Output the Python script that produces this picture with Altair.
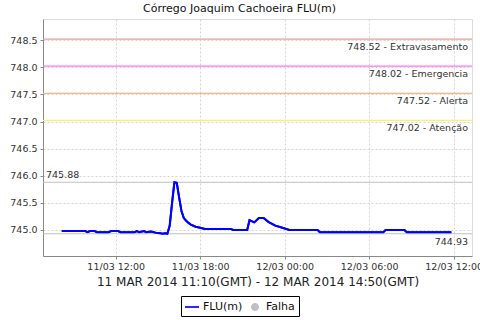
import altair as alt
import pandas as pd

# ---- data ----
times = [
    "2014-03-11T08:10", "2014-03-11T09:50", "2014-03-11T10:00", "2014-03-11T10:10",
    "2014-03-11T10:30", "2014-03-11T10:40", "2014-03-11T11:30", "2014-03-11T11:40",
    "2014-03-11T12:10", "2014-03-11T12:20", "2014-03-11T13:20", "2014-03-11T13:30",
    "2014-03-11T13:40", "2014-03-11T14:00", "2014-03-11T14:10", "2014-03-11T14:30",
    "2014-03-11T14:50", "2014-03-11T15:10", "2014-03-11T15:20", "2014-03-11T15:30",
    "2014-03-11T15:40", "2014-03-11T15:50", "2014-03-11T16:00", "2014-03-11T16:10",
    "2014-03-11T16:20", "2014-03-11T16:30", "2014-03-11T16:40", "2014-03-11T16:50",
    "2014-03-11T17:00", "2014-03-11T17:10", "2014-03-11T17:20", "2014-03-11T17:40",
    "2014-03-11T18:00", "2014-03-11T18:20", "2014-03-11T20:10", "2014-03-11T20:20",
    "2014-03-11T21:20", "2014-03-11T21:30", "2014-03-11T21:50", "2014-03-11T22:10",
    "2014-03-11T22:30", "2014-03-11T22:50", "2014-03-11T23:20", "2014-03-11T23:50",
    "2014-03-12T00:20", "2014-03-12T02:20", "2014-03-12T02:30", "2014-03-12T07:00",
    "2014-03-12T07:10", "2014-03-12T08:30", "2014-03-12T08:40", "2014-03-12T11:50",
]
levels = [
    744.98, 744.98, 744.96, 744.98,
    744.98, 744.96, 744.96, 744.98,
    744.98, 744.96, 744.96, 744.98,
    744.96, 744.98, 744.96, 744.97,
    744.95, 744.94, 744.93, 744.94,
    744.93, 745.08, 745.50, 745.88,
    745.87, 745.60, 745.35, 745.22,
    745.17, 745.13, 745.10, 745.06,
    745.04, 745.02, 745.02, 745.00,
    745.00, 745.18, 745.14, 745.22,
    745.22, 745.15, 745.08, 745.04,
    745.00, 745.00, 744.96, 744.96,
    745.00, 745.00, 744.96, 744.96,
]
threshold_values = [748.52, 748.02, 747.52, 747.02]
threshold_names = ["Extravasamento", "Emergencia", "Alerta", "Atenção"]
max_value = 745.88
min_value = 744.93
tick_times = ["2014-03-11T12:00", "2014-03-11T18:00", "2014-03-12T00:00",
              "2014-03-12T06:00", "2014-03-12T12:00"]
y_ticks = [745.0, 745.5, 746.0, 746.5, 747.0, 747.5, 748.0, 748.5]
legend_names = ["FLU(m)", "Falha"]
title_text = "Córrego Joaquim Cachoeira FLU(m)"
x_title = "11 MAR 2014 11:10(GMT) - 12 MAR 2014 14:50(GMT)"

# ---- styles ----
threshold_colors = ["#f49a9a", "#ff70ff", "#f2b48c", "#f8f070"]
FONT = "DejaVu Sans"
W, H = 429, 237


def dt(s):
    d, t = s.split("T")
    y, m, dd = [int(v) for v in d.split("-")]
    hh, mm = [int(v) for v in t.split(":")]
    return alt.DateTime(year=y, month=m, date=dd, hours=hh, minutes=mm, utc=True)


series = pd.DataFrame({"t": [s + ":00Z" for s in times], "v": levels})

x_scale = alt.Scale(type="utc", domain=[dt("2014-03-11T06:50"), dt("2014-03-12T13:18")])
y_scale = alt.Scale(domain=[744.52, 748.89], nice=False, zero=False)

x_enc = alt.X(
    "t:T", scale=x_scale, title=x_title,
    axis=alt.Axis(values=[dt(s) for s in tick_times], format="%d/%m %H:%M",
                  labelFontSize=9.5, labelFont=FONT, labelColor="#333333",
                  titleFontSize=12, titleFont=FONT, titleFontWeight="normal",
                  titleColor="#222222", titlePadding=6,
                  grid=True, gridColor="#d4d4d4", gridDash=[2, 2],
                  tickSize=3, tickColor="#888888", domainColor="#888888",
                  labelPadding=2, labelFlush=False, labelOverlap=False),
)
y_axis = alt.Axis(values=y_ticks, format=".1f", labelFontSize=9.5, labelFont=FONT,
                  labelColor="#333333", title=None, grid=True, gridColor="#d4d4d4",
                  gridDash=[2, 2], tickSize=3, tickColor="#888888",
                  domainColor="#888888", labelPadding=3, labelOverlap=False,
                  labelFlush=False)


def Y():
    return alt.Y("v:Q", scale=y_scale, axis=y_axis)


base_line = alt.Chart(series).mark_line(color="#0000ff", strokeWidth=2).encode(
    x=x_enc, y=Y(),
)

layers = []
for val, col in zip(threshold_values, threshold_colors):
    layers.append(
        alt.Chart(pd.DataFrame({"v": [val]})).mark_rule(color=col, strokeWidth=1.2)
        .encode(y=Y())
    )

extremes = pd.DataFrame({"v": [max_value, min_value]})
layers.append(
    alt.Chart(extremes).mark_rule(color="#c0c0c0", strokeWidth=1.2).encode(y=Y())
)

thr_df = pd.DataFrame({
    "v": threshold_values,
    "label": [f"{v:.2f} - {n}" for v, n in zip(threshold_values, threshold_names)],
})
thr_text = alt.Chart(thr_df).mark_text(
    align="right", baseline="middle", dy=8, fontSize=9.5, font=FONT, color="#333333"
).encode(x=alt.value(W - 4), y=Y(), text="label:N")

max_df = pd.DataFrame({"v": [max_value], "label": [f"{max_value:.2f}"]})
max_text = alt.Chart(max_df).mark_text(
    align="left", baseline="middle", dy=-7, fontSize=9.5, font=FONT, color="#333333"
).encode(x=alt.value(3), y=Y(), text="label:N")

min_df = pd.DataFrame({"v": [min_value], "label": [f"{min_value:.2f}"]})
min_text = alt.Chart(min_df).mark_text(
    align="right", baseline="middle", dy=8, fontSize=9.5, font=FONT, color="#333333"
).encode(x=alt.value(W - 4), y=Y(), text="label:N")

# legend (built from an explicit scale domain; the layer itself draws nothing)
line_path = "M-1,-0.12L1,-0.12L1,0.12L-1,0.12Z"
dot_path = "M0.58,0A0.58,0.58 0 1,1 -0.58,0A0.58,0.58 0 1,1 0.58,0Z"
leg = alt.Legend(
    title=None, orient="none", legendX=138, legendY=277, direction="horizontal",
    strokeColor="#000000", padding=4, labelFontSize=11, labelFont=FONT,
    labelColor="#111111", symbolSize=196, labelOffset=4, columnPadding=5,
    symbolStrokeWidth=0,
)
legend_layer = alt.Chart(pd.DataFrame({"s": legend_names})).transform_filter(
    "false"
).mark_point(filled=True, opacity=1).encode(
    color=alt.Color("s:N", scale=alt.Scale(domain=legend_names, range=["#0000ff", "#c0c0c0"]), legend=leg),
    shape=alt.Shape("s:N", scale=alt.Scale(domain=legend_names, range=[line_path, dot_path]), legend=leg),
)

chart = alt.layer(base_line, *layers, base_line, thr_text, max_text, min_text, legend_layer).properties(
    width=W, height=H,
    title=alt.TitleParams(title_text, fontSize=11, font=FONT, fontWeight="normal",
                          anchor="middle", offset=5, dx=-18, color="#111111"),
    autosize=alt.AutoSizeParams(type="none"),
    padding={"left": 43, "top": 19, "right": 8, "bottom": 64},
).configure_view(stroke="#a0a0a0", strokeWidth=1).configure(background="white")

chart.save("out.html", embed_options={"renderer": "svg", "actions": False})
